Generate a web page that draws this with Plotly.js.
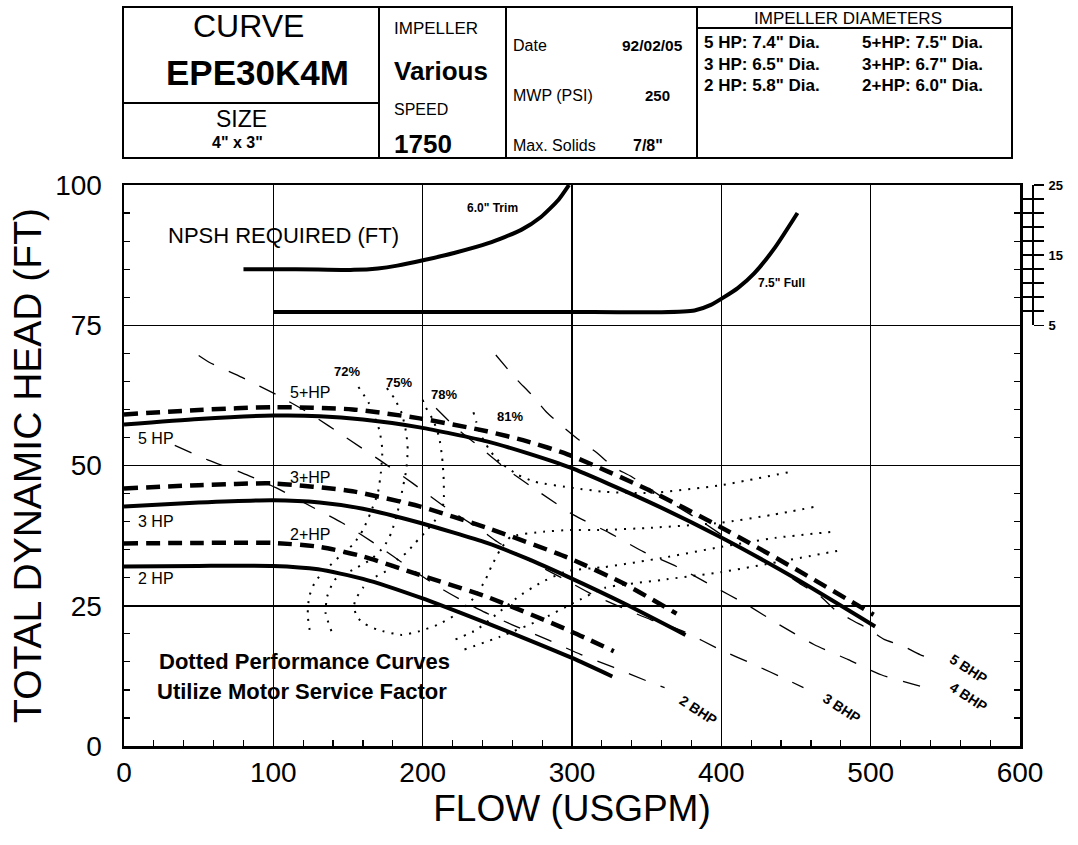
<!DOCTYPE html>
<html>
<head>
<meta charset="utf-8">
<script src="https://cdn.plot.ly/plotly-3.0.1.min.js"></script>
<style>html,body{margin:0;padding:0;background:#fff;}#chart{width:1078px;height:845px;}</style>
</head>
<body>
<div id="chart"></div>
<script>
// ---------- axis ticks ----------
const xTickVals = [0,100,200,300,400,500,600];
const xTickText = ['0','100','200','300','400','500','600'];
const yTickVals = [0,25,50,75,100];
const yTickText = ['0','25','50','75','100'];
const npshTickVals = [5,7,9,11,13,15,17,19,21,23,25];
const npshTickText = ['5','','','','','15','','','','','25'];

// ---------- pump curves (flow USGPM, head ft) ----------
const flow5HP  = [0,50,100,131,160,198,243,270,299,350,399,450,503];
const head5HP  = [57.3,58.3,58.9,58.8,58.2,56.8,54.3,52.2,49.6,43.7,37.3,29.8,21.3];
const flow5pHP = [0,50,100,153,198,243,270,297,350,399,450,502];
const head5pHP = [59.1,59.9,60.4,60.0,58.4,56.1,54.3,52.0,45.8,39.1,31.5,23.4];
const flow3HP  = [0,50,100,131,160,198,243,270,297,335,376];
const head3HP  = [42.7,43.4,43.8,43.4,42.3,39.8,36.2,33.4,30.2,25.4,19.8];
const flow3pHP = [0,50,100,153,198,243,297,335,370];
const head3pHP = [45.9,46.5,46.8,45.4,42.7,38.9,33.6,28.9,23.6];
const flow2HP  = [0,50,100,130,160,199,243,272,300,327];
const head2HP  = [32.0,32.1,32.1,31.5,29.8,26.4,21.9,18.8,15.7,12.4];
const flow2pHP = [0,50,100,131,160,198,243,297,328];
const head2pHP = [36.1,36.2,36.2,35.5,33.8,30.5,26.6,20.7,16.9];

// ---------- brake horsepower lines ----------
const bhp2Flow = [34,56,79,102,126,146,169,191,214,238,260,284,306,328,351,362];
const bhp2Head = [53.6,51.0,48.7,46.0,42.6,39.8,35.9,31.8,27.8,24.3,21.6,18.9,16.3,14.0,11.5,10.4];
const bhp3Flow = [50,57,79,103,126,148,171,193,215,239,250,273,293,313,333,353,375,399,422,444,455];
const bhp3Head = [69.6,68.4,65.7,62.5,59.0,55.1,51.0,46.9,42.6,38.5,36.4,32.8,30.0,27.1,24.7,22.5,20.4,17.2,14.5,11.8,10.4];
const bhp4Flow = [209,222,234,257,279,301,325,348,370,393,417,439,462,485,507,530,542];
const bhp4Head = [60.2,56.8,54.2,49.2,45.1,41.2,38.0,34.6,32.0,28.7,25.2,21.6,18.1,15.4,12.7,10.9,10.0];
const bhp5Flow = [249,262,273,283,294,305,316,328,340,363,387,410,434,454,465,476,487,499,509,521,533,543];
const bhp5Head = [69.7,65.6,62.6,59.5,56.9,54.5,52.4,49.7,48.0,43.9,40.0,35.9,32.3,28.7,27.0,24.3,22.5,20.8,19.0,17.9,16.3,15.4];

// ---------- efficiency contours ----------
const eff72LFlow = [157,164,171,173,172,170,165,160,154,144,135,128,124,123,125];
const eff72LHead = [64.0,61.1,56.3,52.8,48.7,45.1,41.5,38.5,36.1,33.7,31.4,29.3,26.6,23.4,19.5];
const eff75LFlow = [176,181,186,189,190,189,186,183,179,174,165,153,141,136,135,139];
const eff75LHead = [63.8,62.0,59.3,55.8,52.8,49.2,45.1,41.5,38.0,35.5,33.2,31.4,29.6,26.6,23.7,20.4];
const eff78Flow = [200,202,207,211,213,214,214,210,203,195,189,183,177,166,160,155,154,156,161,170,186,197,210,222,235,242,246,252,259,281,299,320,353,400,434,462];
const eff78Head = [61.7,60.4,58.1,55.1,51.5,48.0,43.3,40.8,38.5,36.2,34.4,33.2,31.4,29.8,28.2,26.1,24.8,23.0,21.8,20.7,19.8,20.4,21.6,23.4,26.6,29.6,32.0,35.0,37.3,38.2,38.5,38.5,38.9,39.8,41.2,42.6];
const eff81Flow = [234,236,239,244,249,254,264,275,301,322,353,400,445];
const eff81Head = [59.5,57.7,55.4,53.1,51.3,50.1,48.3,47.1,46.0,45.3,45.1,46.5,48.8];
const eff75RFlow = [222,236,250,264,279,297,322,360,400,436,475];
const eff75RHead = [19.0,20.7,23.6,26.6,29.1,31.2,31.9,33.5,35.5,37.1,38.2];
const eff72RFlow = [228,252,279,301,322,360,400,438,482];
const eff72RHead = [17.2,19.5,22.5,25.5,28.2,29.6,31.0,32.8,35.0];

// ---------- NPSH required (ft) ----------
const npshTrimFlow = [80,100,130,154,170,183,201,221,244,266,279,291,298];
const npshTrim     = [13.0,13.0,12.95,12.9,13.1,13.5,14.3,15.3,16.7,18.6,20.4,22.9,25.0];
const npshFullFlow = [100,200,293,360,382,393,401,411,422,436,451];
const npshFull     = [6.9,6.9,6.9,6.85,7.1,7.9,8.9,10.3,12.4,16.1,21.0];

// ---------- styles ----------
const BHP = {color:'#000', width:1.3, dash:'18px,16px', shape:'spline', smoothing:0.6};
const DOT = {color:'#000', width:2, dash:'2px,7px', shape:'spline', smoothing:0.5};
const SOLID = {color:'#000', width:4, shape:'spline', smoothing:0.6};
const DASH = {color:'#000', width:4.5, dash:'14px,8px', shape:'spline', smoothing:0.6};

function tr(x, y, line, yaxis){
  return {type:'scatter', mode:'lines', x:x, y:y, line:line, yaxis:yaxis||'y', xaxis:'x', hoverinfo:'skip'};
}

const traces = [
  tr(bhp2Flow,bhp2Head,BHP), tr(bhp3Flow,bhp3Head,BHP), tr(bhp4Flow,bhp4Head,BHP), tr(bhp5Flow,bhp5Head,BHP),
  tr(eff72LFlow,eff72LHead,DOT), tr(eff75LFlow,eff75LHead,DOT), tr(eff78Flow,eff78Head,DOT),
  tr(eff81Flow,eff81Head,DOT), tr(eff75RFlow,eff75RHead,DOT), tr(eff72RFlow,eff72RHead,DOT),
  tr(flow5HP,head5HP,SOLID), tr(flow5pHP,head5pHP,DASH),
  tr(flow3HP,head3HP,SOLID), tr(flow3pHP,head3pHP,DASH),
  tr(flow2HP,head2HP,SOLID), tr(flow2pHP,head2pHP,DASH),
  tr(npshTrimFlow,npshTrim,SOLID,'y2'),
  tr(npshFullFlow,npshFull,SOLID,'y3')
];

// ---------- header table geometry (pixel -> paper) ----------
const ML=124, MT=185, PW=909, PH=561;
function px(x){return (x-ML)/PW;}
function py(y){return (MT+PH-y)/PH;}
function line(x0,y0,x1,y1,w){return {type:'line',xref:'paper',yref:'paper',x0:px(x0),y0:py(y0),x1:px(x1),y1:py(y1),line:{color:'#000',width:w||2}};}
const shapes = [
  {type:'rect',xref:'paper',yref:'paper',x0:px(123),y0:py(7),x1:px(1012),y1:py(158),line:{color:'#000',width:2}},
  line(379,7,379,158), line(506,7,506,158), line(697,7,697,158),
  line(123,103,379,103), line(697,28,1012,28)
];
const F = 'Liberation Sans, Arial, sans-serif';
function pa(text,x,y,size,bold,anchor){
  return {xref:'paper',yref:'paper',x:px(x),y:py(y),text:text,showarrow:false,xanchor:anchor||'center',yanchor:'middle',borderpad:0,
          font:{family:F,size:size,color:'#000',weight:bold?'bold':'normal'}};
}
function da(text,x,y,size,bold,angle,fam){
  return {xref:'x',yref:'y',x:x,y:y,text:text,showarrow:false,xanchor:'center',yanchor:'middle',textangle:angle||0,
          font:{family:fam||F,size:size,color:'#000',weight:bold?'bold':'normal'}};
}
const annotations = [
  pa('CURVE',248,26,32,false), pa('EPE30K4M',257,73,35,true), pa('SIZE',241,119,23,false), pa('4" x 3"',237,143,16,true),
  pa('IMPELLER',393,28,17,false,'left'), pa('Various',393,71,26,true,'left'), pa('SPEED',393,110,16,false,'left'), pa('1750',393,144,26,true,'left'),
  pa('Date',512,46,16,false,'left'), pa('92/02/05',684,46,15.5,true,'right'),
  pa('MWP (PSI)',512,95,16,false,'left'), pa('250',644,95,15,true,'left'),
  pa('Max. Solids',512,146,16,false,'left'), pa('7/8"',632,146,16,true,'left'),
  pa('IMPELLER DIAMETERS',848,18,17,false),
  pa('5 HP: 7.4" Dia.',703,43,17,true,'left'), pa('5+HP: 7.5" Dia.',861,43,17,true,'left'),
  pa('3 HP: 6.5" Dia.',703,64,17,true,'left'), pa('3+HP: 6.7" Dia.',861,64,17,true,'left'),
  pa('2 HP: 5.8" Dia.',703,86,17,true,'left'), pa('2+HP: 6.0" Dia.',861,86,17,true,'left'),
  da('NPSH REQUIRED (FT)',107,91.0,22,false),
  da('6.0" Trim',247,95.9,12,true), da('7.5" Full',440,82.5,12,true),
  da('5+HP',124.6,63.0,16,false), da('5 HP',21.4,54.8,16,false),
  da('3+HP',124.6,47.9,16,false), da('3 HP',21.4,40.0,16,false),
  da('2+HP',124.6,37.7,16,false), da('2 HP',21.4,29.8,16,false),
  da('72%',149,66.8,13,true), da('75%',184,64.8,13,true), da('78%',214,62.7,13,true), da('81%',258.5,58.8,13,true),
  da('2 BHP',384.6,6.5,14,true,33), da('3 BHP',480.5,6.7,14,true,33),
  da('5 BHP',565.8,13.8,14,true,33), da('4 BHP',565.8,8.8,14,true,33),
  da('Dotted Performance Curves',121,15.1,22,true,0),
  da('Utilize Motor Service Factor',119,9.8,22,true,0)
];

const layout = {
  width:1078, height:845,
  margin:{l:ML, r:45, t:MT, b:99},
  paper_bgcolor:'#fff', plot_bgcolor:'rgba(0,0,0,0)',
  showlegend:false,
  font:{family:F, color:'#000'},
  xaxis:{domain:[0,896/909], range:[0,600], tickmode:'array', tickvals:xTickVals, ticktext:xTickText,
         ticks:'inside', ticklen:10, tickwidth:1.5, tickcolor:'#000',
         minor:{tickmode:'linear', tick0:0, dtick:20, ticks:'inside', ticklen:6, tickwidth:1.2, tickcolor:'#000', showgrid:false},
         showgrid:true, gridcolor:'#000', gridwidth:1.5, zeroline:false,
         showline:true, linecolor:'#000', linewidth:2.5, mirror:true,
         tickfont:{family:F, size:28}, ticklabelstandoff:0,
         title:{text:'FLOW (USGPM)', font:{family:F, size:37}, standoff:0}, automargin:false, fixedrange:true},
  yaxis:{domain:[0,1], range:[0,100], tickmode:'array', tickvals:yTickVals, ticktext:yTickText,
         ticks:'inside', ticklen:6, tickwidth:1.2, tickcolor:'#000',
         minor:{tickmode:'linear', tick0:0, dtick:5, ticks:'inside', ticklen:6, tickwidth:1.2, tickcolor:'#000', showgrid:false},
         showgrid:true, gridcolor:'#000', gridwidth:1.5, zeroline:false,
         showline:true, linecolor:'#000', linewidth:2.5, mirror:'ticks',
         tickfont:{family:F, size:28}, ticklabelstandoff:14,
         title:{text:'TOTAL DYNAMIC HEAD (FT)', font:{family:F, size:39}, standoff:2}, automargin:false, fixedrange:true},
  yaxis2:{domain:[0.75,1], range:[5,25], anchor:'free', position:1, side:'right',
          tickmode:'array', tickvals:npshTickVals, ticktext:npshTickText,
          ticks:'outside', ticklen:10, tickwidth:1.5, tickcolor:'#000',
          showgrid:false, zeroline:false, showline:true, linecolor:'#000', linewidth:2,
          tickfont:{family:F, size:13, weight:'bold'}, ticklabelstandoff:2, automargin:false, fixedrange:true},
  yaxis3:{overlaying:'y2', range:[5,25], anchor:'free', position:1, side:'right',
          tickmode:'array', tickvals:npshTickVals, showticklabels:false,
          ticks:'inside', ticklen:10, tickwidth:1.5, tickcolor:'#000',
          showgrid:false, zeroline:false, showline:false, automargin:false, fixedrange:true},
  shapes:shapes,
  annotations:annotations
};

Plotly.newPlot('chart', traces, layout, {staticPlot:true, displayModeBar:false});
</script>
</body>
</html>
